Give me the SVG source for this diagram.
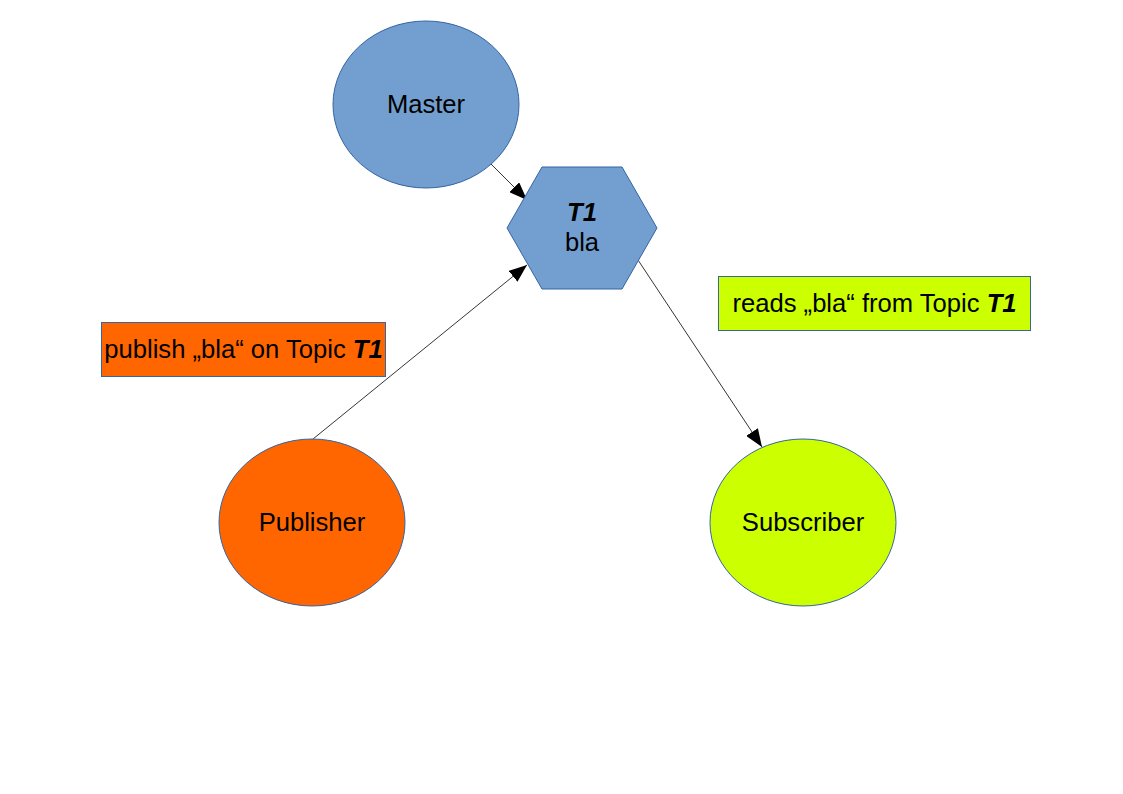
<svg xmlns="http://www.w3.org/2000/svg" width="1123" height="794" viewBox="0 0 1123 794">
<style>
text{font-family:"Liberation Sans",Arial,sans-serif;font-size:25.6px;fill:#000;text-anchor:middle}
.b{font-weight:bold;font-style:italic}
.node{stroke:#3465a4;stroke-width:1}
.conn{stroke:#000;stroke-width:0.8;fill:none}
</style>
<defs>
<marker id="arr" markerUnits="userSpaceOnUse" markerWidth="18" markerHeight="14" refX="18" refY="7" orient="auto">
<path d="M0,0 L18,7 L0,14 Z" fill="#000"/>
</marker>
</defs>
<rect width="1123" height="794" fill="#fff"/>
<g id="connectors">
<line class="conn" x1="491" y1="164" x2="527" y2="200" marker-end="url(#arr)"/>
<line class="conn" x1="313" y1="439" x2="527" y2="265" marker-end="url(#arr)"/>
<line class="conn" x1="638" y1="260" x2="762" y2="447" marker-end="url(#arr)"/>
</g>
<g id="master">
<ellipse class="node" cx="426" cy="104.5" rx="93" ry="83.5" fill="#729fcf"/>
<text x="426" y="113">Master</text>
</g>
<g id="topic">
<polygon class="node" points="507,228 542,167 622,167 657,228 622,289 542,289" fill="#729fcf"/>
<text x="582" y="221" class="b">T1</text>
<text x="582" y="251">bla</text>
</g>
<g id="publisher">
<ellipse class="node" cx="312" cy="522.5" rx="93" ry="83.5" fill="#ff6600"/>
<text x="312" y="531">Publisher</text>
</g>
<g id="subscriber">
<ellipse class="node" cx="803" cy="522.5" rx="93" ry="83.5" fill="#ccff00"/>
<text x="803" y="531">Subscriber</text>
</g>
<g id="publish-label">
<rect class="node" x="101.5" y="322.5" width="284" height="54" fill="#ff6600"/>
<text x="243.5" y="358">publish „bla“ on Topic <tspan class="b">T1</tspan></text>
</g>
<g id="reads-label">
<rect class="node" x="718.5" y="276.5" width="312" height="54" fill="#ccff00"/>
<text x="874.5" y="312">reads „bla“ from Topic <tspan class="b">T1</tspan></text>
</g>
</svg>
